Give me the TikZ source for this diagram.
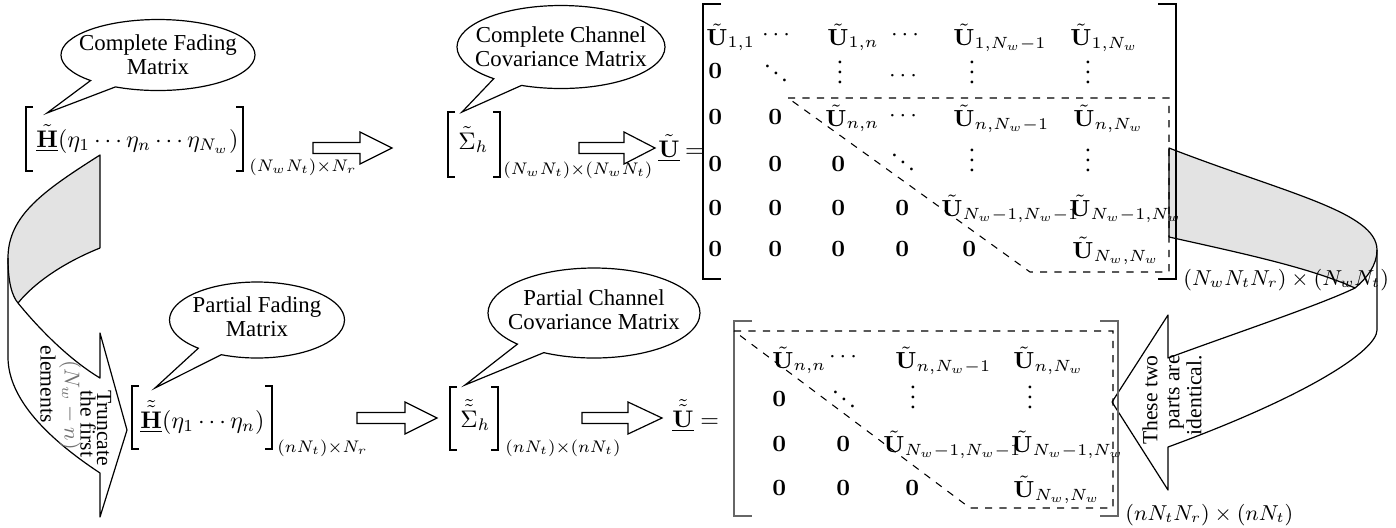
\RequirePackage{fix-cm}
\documentclass[tikz,border=0pt]{standalone}
\usepackage[no-math]{fontspec}
\setmainfont{Liberation Serif}
\usetikzlibrary{shapes.callouts}
\def\pxu{0.416667pt}
\newcommand\Ut[1]{\tilde{\mathbf U}_{#1}}
\newcommand\LBr[5]{\draw[#5] ({#1+#4},#2) -- (#1,#2) -- (#1,#3) -- ({#1+#4},#3);}
\newcommand\RBr[5]{\draw[#5] ({#1-#4},#2) -- (#1,#2) -- (#1,#3) -- ({#1-#4},#3);}
\newcommand\BArrow[4]{\draw[blk] (#1,{#4-5.5}) -- (#2,{#4-5.5}) -- (#2,{#4-16}) -- (#3,#4) -- (#2,{#4+16}) -- (#2,{#4+5.5}) -- (#1,{#4+5.5}) -- cycle;}
\begin{document}
\begin{tikzpicture}[x=\pxu, y=-\pxu,
  bubble/.style={ellipse callout, draw, line width=0.5pt, fill=white, inner sep=0pt, callout pointer arc=18},
  btext/.style={align=center, inner sep=0pt, font=\fontsize{9.5}{10}\selectfont},
  m/.style={anchor=base west, inner sep=0pt},
  mm/.style={anchor=base west, inner sep=0pt, font=\fontsize{9.7}{11}\selectfont},
  md/.style={anchor=base, inner sep=0pt, font=\fontsize{9.7}{11}\selectfont},
  ms/.style={anchor=base west, inner sep=0pt, font=\fontsize{9}{10}\selectfont},
  brk/.style={line width=0.45pt},
  bigbrk/.style={line width=0.7pt},
  bigbrkg/.style={line width=0.7pt, draw=black!60},
  blk/.style={draw, line width=0.5pt, fill=white, line join=miter},
  dashbox/.style={dashed, line width=0.45pt},
  ribbon/.style={draw, line width=0.5pt, line join=round},
  rtext/.style={inner sep=0pt, font=\fontsize{9}{9}\selectfont},
]
\useasboundingbox (0,0) rectangle (1396,527);

% ---------- left ribbon arrow ----------
\fill[gray!22] (100,155) .. controls (45,190) and (8,215) .. (8,258) .. controls (8,282) and (12,296) .. (18,303) .. controls (35,282) and (65,262) .. (100,248) -- cycle;
\fill[white] (8,258) -- (8,357) .. controls (8,400) and (50,440) .. (100,473) -- (100,517) -- (127,430) -- (100,333) -- (100,378) .. controls (70,360) and (40,330) .. (18,303) .. controls (12,296) and (8,282) .. (8,258) -- cycle;
\draw[ribbon] (100,248) -- (100,155) .. controls (45,190) and (8,215) .. (8,258) -- (8,357) .. controls (8,400) and (50,440) .. (100,473) -- (100,517) -- (127,430) -- (100,333) -- (100,378) .. controls (70,360) and (40,330) .. (18,303) .. controls (35,282) and (65,262) .. (100,248);
\draw[ribbon] (8,258) .. controls (8,282) and (12,296) .. (18,303);

% ---------- right ribbon arrow ----------
\fill[gray!22] (1169,148) .. controls (1285,193) and (1377,212) .. (1377,250) .. controls (1377,265) and (1367,278) .. (1355,288) .. controls (1310,268) and (1250,255) .. (1169,237) -- cycle;
\fill[white] (1377,250) -- (1377,330) .. controls (1377,350) and (1310,395) .. (1168,447) -- (1168,490) -- (1112,402) -- (1168,315) -- (1168,358) .. controls (1230,335) and (1320,305) .. (1355,288) .. controls (1367,278) and (1377,265) .. (1377,250) -- cycle;
\draw[ribbon] (1169,237) -- (1169,148) .. controls (1285,193) and (1377,212) .. (1377,250) -- (1377,330) .. controls (1377,350) and (1310,395) .. (1168,447) -- (1168,490) -- (1112,402) -- (1168,315) -- (1168,358) .. controls (1230,335) and (1320,305) .. (1355,288) .. controls (1310,268) and (1250,255) .. (1169,237);
\draw[ribbon] (1377,250) .. controls (1377,265) and (1367,278) .. (1355,288);

% ---------- rotated labels ----------
\node[rtext, rotate=-90] (t1) at (104,428) {Truncate};
\node[rtext, rotate=-90] (t2) at (88,424) {the first};
\node[rtext, rotate=-90, text=black!55] (t3) at (70,405) {$(N_w-n)$};
\node[rtext, rotate=-90] (t4) at (48,384) {elements};
\node[rtext, rotate=90, align=right, font=\fontsize{9}{9.2}\selectfont] (t5) at (1172,400) {These two\\parts are\\identical.};

% ---------- top row ----------
\LBr{26}{107}{171}{7}{brk}
\node[m] (h1) at (36,147) {$\underline{\tilde{\mathbf H}}(\eta_1\cdots\eta_n\cdots\eta_{N_w})$};
\RBr{243}{107}{171}{7}{brk}
\node[m] (h1s) at (249,171) {$\scriptstyle (N_wN_t)\times N_r$};

\BArrow{313}{360}{392}{148}

\LBr{448}{112}{177}{7}{brk}
\node[m] (s1) at (458,149) {$\tilde{\Sigma}_h$};
\RBr{500}{112}{177}{7}{brk}
\node[m] (s1s) at (503,174) {$\scriptstyle (N_wN_t)\times(N_wN_t)$};

\BArrow{579}{624}{655}{148}

\node[m] (u1) at (658,157) {$\underline{\tilde{\mathbf U}}\mkern4mu{=}$};

% big top matrix
\LBr{703}{4}{279}{18}{bigbrk}
\RBr{1176}{4}{279}{18}{bigbrk}
\draw[dashbox] (788,98) -- (1169,98) -- (1169,272) -- (1030,272) -- cycle;

\node[mm] (a11) at (706,45) {$\Ut{1,1}$};
\node[md] (a12) at (776,40) {$\cdots$};
\node[mm] (a13) at (827,45) {$\Ut{1,n}$};
\node[md] (a14) at (905,40) {$\cdots$};
\node[mm] (a15) at (953,45) {$\Ut{1,N_w-1}$};
\node[mm] (a16) at (1070,45) {$\Ut{1,N_w}$};

\node[mm] (a21) at (708,78) {$\mathbf 0$};
\node[md] (a22) at (776,84) {$\ddots$};
\node[md] (a23) at (840,83) {$\vdots$};
\node[md] (a24) at (903,81) {$\cdots$};
\node[md] (a25) at (972,83) {$\vdots$};
\node[md] (a26) at (1088,83) {$\vdots$};

\node[mm] (a31) at (708,124) {$\mathbf 0$};
\node[mm] (a32) at (768,124) {$\mathbf 0$};
\node[mm] (a33) at (825,126) {$\Ut{n,n}$};
\node[md] (a34) at (903,121) {$\cdots$};
\node[mm] (a35) at (953,126) {$\Ut{n,N_w-1}$};
\node[mm] (a36) at (1073,126) {$\Ut{n,N_w}$};

\node[mm] (a41) at (708,171) {$\mathbf 0$};
\node[mm] (a42) at (768,171) {$\mathbf 0$};
\node[mm] (a43) at (831,171) {$\mathbf 0$};
\node[md] (a44) at (903,173) {$\ddots$};
\node[md] (a45) at (972,171) {$\vdots$};
\node[md] (a46) at (1088,171) {$\vdots$};

\node[mm] (a51) at (708,215) {$\mathbf 0$};
\node[mm] (a52) at (768,215) {$\mathbf 0$};
\node[mm] (a53) at (831,215) {$\mathbf 0$};
\node[mm] (a54) at (895,215) {$\mathbf 0$};
\node[mm] (a55) at (941,216) {$\Ut{N_w-1,N_w-1}$};
\node[mm] (a56) at (1069,216) {$\Ut{N_w-1,N_w}$};

\node[mm] (a61) at (708,256) {$\mathbf 0$};
\node[mm] (a62) at (768,256) {$\mathbf 0$};
\node[mm] (a63) at (831,256) {$\mathbf 0$};
\node[mm] (a64) at (895,256) {$\mathbf 0$};
\node[mm] (a65) at (962,256) {$\mathbf 0$};
\node[mm] (a66) at (1072,258) {$\Ut{N_w,N_w}$};

\node[ms] (as) at (1183,285) {$(N_wN_tN_r)\times(N_wN_t)$};

% ---------- bottom row ----------
\LBr{132}{386}{449}{7}{brk}
\node[m] (h2) at (140,428) {$\underline{\tilde{\tilde{\mathbf H}}}(\eta_1\cdots\eta_n)$};
\RBr{272}{386}{449}{7}{brk}
\node[m] (h2s) at (277,452) {$\scriptstyle (nN_t)\times N_r$};

\BArrow{357}{405}{437}{418}

\LBr{450}{387}{450}{7}{brk}
\node[m] (s2) at (460,427) {$\tilde{\tilde{\Sigma}}_h$};
\RBr{498}{387}{450}{7}{brk}
\node[m] (s2s) at (505,452) {$\scriptstyle (nN_t)\times(nN_t)$};

\BArrow{582}{628}{662}{418}

\node[m] (u2) at (672,427) {$\underline{\tilde{\tilde{\mathbf U}}} =$};

% bottom matrix
\LBr{734}{321}{516}{18}{bigbrkg}
\RBr{1118}{321}{516}{18}{bigbrkg}
\draw[dashbox] (734,331) -- (1113,331) -- (1113,508) -- (970,508) -- cycle;

\node[mm] (b11) at (772,368) {$\Ut{n,n}$};
\node[md] (b12) at (843,362) {$\cdots$};
\node[mm] (b13) at (895,368) {$\Ut{n,N_w-1}$};
\node[mm] (b14) at (1013,368) {$\Ut{n,N_w}$};

\node[mm] (b21) at (772,406) {$\mathbf 0$};
\node[md] (b22) at (844,410) {$\ddots$};
\node[md] (b23) at (913,408) {$\vdots$};
\node[md] (b24) at (1030,408) {$\vdots$};

\node[mm] (b31) at (772,451) {$\mathbf 0$};
\node[mm] (b32) at (836,451) {$\mathbf 0$};
\node[mm] (b33) at (883,452) {$\Ut{N_w-1,N_w-1}$};
\node[mm] (b34) at (1011,452) {$\Ut{N_w-1,N_w}$};

\node[mm] (b41) at (772,495) {$\mathbf 0$};
\node[mm] (b42) at (836,495) {$\mathbf 0$};
\node[mm] (b43) at (905,495) {$\mathbf 0$};
\node[mm] (b44) at (1013,497) {$\Ut{N_w,N_w}$};

\node[ms] (bs) at (1125,520) {$(nN_tN_r)\times(nN_t)$};

% ---------- callouts ----------
\node[bubble, minimum width=194*\pxu, minimum height=71*\pxu, callout absolute pointer={(47,113)}] (cf) at (158,55) {};
\node[btext] (cft) at (cf.center) {Complete Fading\\Matrix};
\node[bubble, minimum width=208*\pxu, minimum height=83*\pxu, callout absolute pointer={(462,112)}] (cc) at (561,47) {};
\node[btext] (cct) at (cc.center) {Complete Channel\\Covariance Matrix};
\node[bubble, minimum width=175*\pxu, minimum height=76*\pxu, callout absolute pointer={(155,388)}] (pf) at (257,320) {};
\node[btext] (pft) at ([yshift=1.5pt]pf.center) {Partial Fading\\Matrix};
\node[bubble, minimum width=212*\pxu, minimum height=90*\pxu, callout absolute pointer={(465,385)}] (pc) at (594,313) {};
\node[btext] (pct) at ([yshift=1.5pt]pc.center) {Partial Channel\\Covariance Matrix};
\end{tikzpicture}
\end{document}
